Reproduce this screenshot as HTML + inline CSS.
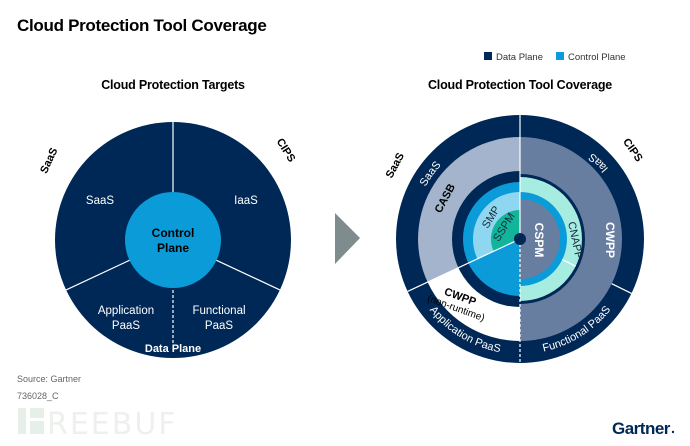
<!DOCTYPE html>
<html><head><meta charset="utf-8"><style>
html,body{margin:0;padding:0;background:#fff;}
body{width:690px;height:441px;overflow:hidden;font-family:"Liberation Sans",sans-serif;}
</style></head><body>
<svg width="690" height="441" viewBox="0 0 690 441" xmlns="http://www.w3.org/2000/svg" font-family="Liberation Sans, sans-serif">
<defs>
<path id="pApp" d="M420.4,296.5 A115 115 0 0 0 516,353.9"/>
<path id="pFun" d="M524,353.9 A115 115 0 0 0 621.5,293"/>
<path id="pSaaS" d="M412,239 A108 108 0 0 1 486.6,136.3"/>
<path id="pIaaS" d="M628,202 A110 110 0 0 0 558,135"/>
</defs>
<text x="17" y="31" font-size="17" font-weight="bold" fill="#000" letter-spacing="-0.3">Cloud Protection Tool Coverage</text>
<rect x="484" y="52" width="8" height="8" fill="#002856"/>
<text x="496" y="60" font-size="9.5" fill="#333">Data Plane</text>
<rect x="556" y="52" width="8" height="8" fill="#0a9bd8"/>
<text x="568" y="60" font-size="9.5" fill="#333">Control Plane</text>
<text x="173" y="89" font-size="12.5" font-weight="bold" text-anchor="middle" letter-spacing="-0.2">Cloud Protection Targets</text>
<text x="520" y="89" font-size="12.5" font-weight="bold" text-anchor="middle" letter-spacing="-0.2">Cloud Protection Tool Coverage</text>

<!-- Left circle -->
<circle cx="173" cy="240" r="118" fill="#002856"/>
<g stroke="#fff" stroke-width="1.2">
<line x1="173" y1="122" x2="173" y2="240"/>
<line x1="173" y1="240" x2="66.1" y2="289.9"/>
<line x1="173" y1="240" x2="279.9" y2="289.9"/>
<line x1="173" y1="240" x2="173" y2="345" stroke-dasharray="3,2"/>
</g>
<circle cx="173" cy="240" r="48" fill="#0a9bd8"/>
<text x="173" y="237" font-size="12" font-weight="bold" text-anchor="middle">Control</text>
<text x="173" y="252" font-size="12" font-weight="bold" text-anchor="middle">Plane</text>
<g fill="#fff" font-size="11.5" text-anchor="middle">
<text x="100" y="204">SaaS</text>
<text x="246" y="204">IaaS</text>
<text x="126" y="314">Application</text>
<text x="126" y="329">PaaS</text>
<text x="219" y="314">Functional</text>
<text x="219" y="329">PaaS</text>
<text x="173" y="352" font-weight="bold" font-size="11">Data Plane</text>
</g>
<text transform="translate(52,162) rotate(-65)" font-size="11" font-weight="bold" text-anchor="middle">SaaS</text>
<text transform="translate(283,152) rotate(58)" font-size="11" font-weight="bold" text-anchor="middle">CIPS</text>

<!-- Arrow -->
<polygon points="335,213 360,238 335,264" fill="#7f8c8d"/>

<!-- Right circle -->
<circle cx="520" cy="239" r="124" fill="#002856"/>
<path d="M520,137 A102 102 0 0 1 520,341 Z" fill="#687ea0"/>
<path d="M520,239 L427.6,282.1 A102 102 0 0 1 520,137 Z" fill="#a3b4cc"/>
<path d="M520,239 L520,341 A102 102 0 0 1 427.6,282.1 Z" fill="#fff"/>
<path d="M520,171 A68 68 0 0 0 520,307 Z" fill="#002856"/>
<path d="M520,182 A57 57 0 0 0 520,296 Z" fill="#0a9bd8"/>
<path d="M520,239 L477.4,258.9 A47 47 0 0 1 520,192 Z" fill="#8fd6f0"/>
<path d="M520,239 L493.7,251.3 A29 29 0 0 1 520,210 Z" fill="#10b59a"/>
<path d="M520,174 A65 65 0 0 1 520,304 Z" fill="#002856"/>
<path d="M520,177 A62 62 0 0 1 520,301 Z" fill="#a6ece0"/>
<path d="M520,192 A47 47 0 0 1 520,286 Z" fill="#0a9bd8"/>
<path d="M520,199 A40 40 0 0 1 520,279 Z" fill="#687ea0"/>
<g stroke="#fff" stroke-width="1.2">
<line x1="520" y1="115" x2="520" y2="239"/>
<line x1="520" y1="239" x2="520" y2="363" stroke-dasharray="3,2"/>
<line x1="520" y1="239" x2="407.6" y2="291.4"/>
<line x1="611.7" y1="283.7" x2="631.5" y2="293.4"/>
<line x1="562.2" y1="259.6" x2="575.7" y2="266.2"/>
</g>
<circle cx="520" cy="239" r="6" fill="#002856"/>

<g fill="#fff" font-size="11">
<text><textPath href="#pApp" startOffset="50%" text-anchor="middle">Application PaaS</textPath></text>
<text><textPath href="#pFun" startOffset="50%" text-anchor="middle">Functional PaaS</textPath></text>
<text><textPath href="#pSaaS" startOffset="50%" text-anchor="middle">SaaS</textPath></text>
<text><textPath href="#pIaaS" startOffset="50%" text-anchor="middle">IaaS</textPath></text>
</g>
<text transform="translate(448,200) rotate(-62)" font-size="11" font-weight="bold" text-anchor="middle">CASB</text>
<text transform="translate(606,240) rotate(90)" font-size="12" font-weight="bold" fill="#fff" text-anchor="middle">CWPP</text>
<text transform="translate(535,240) rotate(90)" font-size="12" font-weight="bold" fill="#fff" text-anchor="middle">CSPM</text>
<text transform="translate(572,241) rotate(78)" font-size="11" fill="#1a2a3a" text-anchor="middle">CNAPP</text>
<text transform="translate(494,219) rotate(-58)" font-size="11" fill="#1a2a3a" text-anchor="middle">SMP</text>
<text transform="translate(507,229) rotate(-58)" font-size="11" fill="#1a2a3a" text-anchor="middle">SSPM</text>
<text transform="translate(459,300) rotate(20)" font-size="11" font-weight="bold" text-anchor="middle">CWPP</text>
<text transform="translate(455,311) rotate(20)" font-size="10" text-anchor="middle">(non-runtime)</text>
<text transform="translate(398,167) rotate(-62)" font-size="11" font-weight="bold" text-anchor="middle">SaaS</text>
<text transform="translate(630,152) rotate(55)" font-size="11" font-weight="bold" text-anchor="middle">CIPS</text>

<!-- footer -->
<text x="17" y="382" font-size="9" fill="#666">Source: Gartner</text>
<text x="17" y="399" font-size="9" fill="#666">736028_C</text>
<g fill="#e6efe8">
<rect x="18" y="408" width="8" height="26"/>
<rect x="30" y="408" width="14" height="10"/>
<rect x="30" y="421" width="14" height="13"/>
</g>
<text x="47" y="434" font-size="30" fill="#eef0ee" font-family="DejaVu Sans, sans-serif" letter-spacing="2">REEBUF</text>
<text x="612" y="434" font-size="17" font-weight="bold" fill="#002856" letter-spacing="-0.5">Gartner</text>
<circle cx="673" cy="432" r="1.2" fill="#002856"/>
</svg>
</body></html>
